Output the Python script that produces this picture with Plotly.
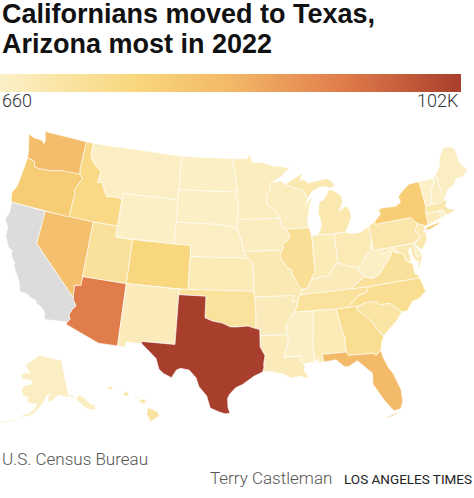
import math

import plotly.graph_objects as go
from plotly.colors import sample_colorscale

# People who moved out of California in 2022 (estimates)
states = ["AL", "AK", "AZ", "AR", "CA", "CO", "CT", "DE", "DC", "FL", "GA", "HI", "ID", "IL", "IN", "IA", "KS",
          "KY", "LA", "ME", "MD", "MA", "MI", "MN", "MS", "MO", "MT", "NE", "NV", "NH", "NJ", "NM", "NY", "NC",
          "ND", "OH", "OK", "OR", "PA", "RI", "SC", "SD", "TN", "TX", "UT", "VT", "VA", "WA", "WV", "WI", "WY"]
moved = [7000, 2500, 76000, 6000, None, 30000, 6000, 3000, 3000, 50000, 22000, 16000, 27000, 20000, 7000, 4000, 7000,
         6000, 6000, 2500, 9000, 11000, 10000, 4500, 1800, 9000, 3000, 2500, 46000, 2500, 10000, 6000, 37000, 22000,
         1500, 8000, 17000, 38000, 12000, 1500, 14000, 1800, 17000, 102000, 18000, 660, 18000, 48000, 1500, 4500, 1800]
z_min = 660
z_max = 102000
no_data_color = "#dcdcdc"

colorscale = [[0, "#fbf0c8"], [0.15, "#fae3a0"], [0.3, "#f8d67c"], [0.5, "#f3b868"], [0.75, "#e07b4a"], [1, "#a83e2c"]]

# Rough state outlines, lon/lat, one list per ring (no map files are available offline)
outlines = {
    "WA": [[(-124.73, 48.38), (-123.98, 48.16), (-123.15, 48.15), (-122.7, 48.12), (-122.5, 47.9), (-122.35, 48.05), (-122.45, 48.4), (-122.75, 49.0), (-117.03, 49.0), (-117.04, 46.42), (-116.92, 46.0), (-118.98, 46.0), (-119.3, 45.93), (-120.5, 45.7), (-121.2, 45.65), (-122.2, 45.58), (-122.75, 45.65), (-122.95, 46.1), (-123.4, 46.2), (-123.95, 46.25), (-124.05, 46.7), (-124.15, 47.0), (-124.4, 47.6)]],
    "OR": [[(-123.95, 46.25), (-123.4, 46.2), (-122.95, 46.1), (-122.75, 45.65), (-122.2, 45.58), (-121.2, 45.65), (-120.5, 45.7), (-119.3, 45.93), (-118.98, 46.0), (-116.92, 46.0), (-116.46, 45.6), (-116.67, 45.32), (-116.85, 45.02), (-117.2, 44.45), (-117.03, 44.25), (-116.93, 44.1), (-117.03, 43.83), (-117.03, 42.0), (-124.21, 42.0), (-124.41, 42.3), (-124.55, 42.84), (-124.2, 43.4), (-124.1, 44.0), (-124.05, 44.7), (-123.95, 45.5)]],
    "ID": [[(-117.03, 49.0), (-116.05, 49.0), (-116.05, 48.0), (-115.72, 47.45), (-114.95, 46.93), (-114.33, 46.65), (-114.45, 45.55), (-113.95, 45.7), (-113.45, 45.0), (-113.0, 44.45), (-112.3, 44.55), (-111.5, 44.55), (-111.05, 44.48), (-111.05, 42.0), (-114.04, 42.0), (-117.03, 42.0), (-117.03, 43.83), (-116.93, 44.1), (-117.03, 44.25), (-117.2, 44.45), (-116.85, 45.02), (-116.67, 45.32), (-116.46, 45.6), (-116.92, 46.0), (-117.04, 46.42)]],
    "MT": [[(-116.05, 49.0), (-104.05, 49.0), (-104.05, 45.0), (-111.05, 45.0), (-111.05, 44.48), (-111.5, 44.55), (-112.3, 44.55), (-113.0, 44.45), (-113.45, 45.0), (-113.95, 45.7), (-114.45, 45.55), (-114.33, 46.65), (-114.95, 46.93), (-115.72, 47.45), (-116.05, 48.0)]],
    "WY": [[(-111.05, 45.0), (-104.05, 45.0), (-104.05, 41.0), (-111.05, 41.0)]],
    "UT": [[(-114.04, 42.0), (-111.05, 42.0), (-111.05, 41.0), (-109.05, 41.0), (-109.05, 37.0), (-114.05, 37.0)]],
    "CO": [[(-109.05, 41.0), (-102.05, 41.0), (-102.05, 37.0), (-109.05, 37.0)]],
    "NV": [[(-120.0, 42.0), (-114.04, 42.0), (-114.05, 36.2), (-114.75, 36.1), (-114.63, 35.0), (-120.0, 39.0)]],
    "CA": [[(-124.21, 42.0), (-120.0, 42.0), (-120.0, 39.0), (-114.63, 35.0), (-114.57, 34.8), (-114.15, 34.3), (-114.5, 33.9), (-114.7, 33.4), (-114.5, 33.0), (-114.72, 32.72), (-117.12, 32.53), (-117.25, 32.85), (-117.4, 33.25), (-118.0, 33.65), (-118.4, 33.75), (-118.5, 34.03), (-119.2, 34.15), (-119.6, 34.4), (-120.5, 34.45), (-120.65, 34.9), (-120.9, 35.4), (-121.9, 36.6), (-121.8, 36.85), (-122.05, 36.95), (-122.5, 37.5), (-122.5, 37.8), (-123.0, 38.0), (-123.7, 38.9), (-123.8, 39.8), (-124.35, 40.3), (-124.1, 41.0)]],
    "AZ": [[(-114.05, 37.0), (-109.05, 37.0), (-109.05, 31.33), (-111.07, 31.33), (-114.81, 32.5), (-114.72, 32.72), (-114.5, 33.0), (-114.7, 33.4), (-114.5, 33.9), (-114.15, 34.3), (-114.57, 34.8), (-114.63, 35.0), (-114.75, 36.1), (-114.05, 36.2)]],
    "NM": [[(-109.05, 37.0), (-103.0, 37.0), (-103.04, 36.5), (-103.05, 32.0), (-106.62, 32.0), (-106.53, 31.78), (-108.21, 31.78), (-108.21, 31.33), (-109.05, 31.33)]],
    "TX": [[(-103.04, 36.5), (-100.0, 36.5), (-100.0, 34.56), (-99.2, 34.3), (-98.1, 34.13), (-97.2, 33.8), (-96.5, 33.8), (-95.3, 33.88), (-94.48, 33.64), (-94.04, 33.55), (-94.04, 33.0), (-94.04, 31.99), (-93.55, 31.18), (-93.7, 30.5), (-93.7, 30.1), (-93.84, 29.7), (-94.7, 29.35), (-95.1, 29.1), (-95.9, 28.6), (-96.6, 28.3), (-97.2, 27.7), (-97.4, 27.3), (-97.35, 26.5), (-97.15, 25.96), (-97.6, 25.9), (-98.2, 26.06), (-99.1, 26.4), (-99.5, 27.5), (-100.3, 28.3), (-100.65, 29.1), (-101.4, 29.77), (-102.3, 29.88), (-102.7, 29.7), (-103.15, 28.98), (-104.0, 29.3), (-104.5, 29.65), (-104.9, 30.6), (-106.0, 31.4), (-106.53, 31.78), (-106.62, 32.0), (-103.05, 32.0)]],
    "OK": [[(-103.0, 37.0), (-94.62, 37.0), (-94.43, 35.4), (-94.48, 33.64), (-95.3, 33.88), (-96.5, 33.8), (-97.2, 33.8), (-98.1, 34.13), (-99.2, 34.3), (-100.0, 34.56), (-100.0, 36.5), (-103.04, 36.5)]],
    "KS": [[(-102.05, 40.0), (-95.31, 40.0), (-94.9, 39.75), (-94.61, 39.11), (-94.62, 37.0), (-102.05, 37.0)]],
    "NE": [[(-104.05, 43.0), (-98.5, 43.0), (-97.9, 42.8), (-97.2, 42.85), (-96.45, 42.49), (-96.1, 41.7), (-95.9, 41.2), (-95.85, 40.7), (-95.31, 40.0), (-102.05, 40.0), (-102.05, 41.0), (-104.05, 41.0)]],
    "SD": [[(-104.05, 45.94), (-96.56, 45.94), (-96.85, 45.6), (-96.45, 45.3), (-96.45, 43.5), (-96.6, 43.5), (-96.45, 42.49), (-97.2, 42.85), (-97.9, 42.8), (-98.5, 43.0), (-104.05, 43.0)]],
    "ND": [[(-104.05, 49.0), (-97.23, 49.0), (-96.85, 47.6), (-96.56, 45.94), (-104.05, 45.94)]],
    "MN": [[(-97.23, 49.0), (-95.15, 49.0), (-95.15, 49.38), (-94.8, 49.3), (-94.6, 48.7), (-93.0, 48.6), (-92.0, 48.3), (-90.8, 48.2), (-89.6, 48.0), (-90.8, 47.3), (-92.1, 46.75), (-92.3, 46.65), (-92.3, 46.1), (-92.85, 45.6), (-92.75, 44.75), (-91.9, 44.3), (-91.25, 43.5), (-96.45, 43.5), (-96.45, 45.3), (-96.85, 45.6), (-96.56, 45.94), (-96.85, 47.6)]],
    "IA": [[(-96.6, 43.5), (-91.25, 43.5), (-91.1, 42.7), (-90.65, 42.5), (-90.15, 41.9), (-90.35, 41.55), (-91.05, 41.2), (-91.1, 40.7), (-91.42, 40.38), (-91.7, 40.6), (-95.77, 40.58), (-95.85, 40.7), (-95.9, 41.2), (-96.1, 41.7), (-96.45, 42.49)]],
    "MO": [[(-95.77, 40.58), (-91.7, 40.6), (-91.42, 40.38), (-91.5, 40.0), (-90.7, 39.0), (-90.2, 38.8), (-90.2, 38.4), (-89.5, 37.3), (-89.13, 36.98), (-89.5, 36.5), (-89.7, 36.0), (-90.37, 36.0), (-90.15, 36.5), (-94.62, 36.5), (-94.62, 37.0), (-94.61, 39.11), (-94.9, 39.75), (-95.31, 40.0)]],
    "AR": [[(-94.62, 36.5), (-90.15, 36.5), (-90.37, 36.0), (-89.7, 36.0), (-90.1, 35.0), (-90.6, 34.6), (-91.1, 33.9), (-91.17, 33.0), (-94.04, 33.0), (-94.04, 33.55), (-94.48, 33.64), (-94.43, 35.4)]],
    "LA": [[(-94.04, 33.0), (-91.17, 33.0), (-91.0, 32.4), (-91.6, 31.0), (-89.75, 31.0), (-89.85, 30.65), (-89.6, 30.2), (-89.4, 30.05), (-89.6, 29.7), (-89.15, 29.1), (-89.4, 28.95), (-90.0, 29.2), (-90.9, 29.05), (-91.8, 29.5), (-92.2, 29.55), (-93.2, 29.77), (-93.84, 29.7), (-93.7, 30.1), (-93.7, 30.5), (-93.55, 31.18), (-94.04, 31.99)]],
    "MS": [[(-91.17, 33.0), (-91.1, 33.9), (-90.6, 34.6), (-90.1, 35.0), (-88.2, 35.0), (-88.1, 34.9), (-88.47, 31.9), (-88.4, 30.37), (-89.3, 30.3), (-89.6, 30.2), (-89.85, 30.65), (-89.75, 31.0), (-91.6, 31.0), (-91.0, 32.4)]],
    "AL": [[(-88.2, 35.0), (-85.6, 34.98), (-85.18, 32.87), (-85.0, 32.3), (-85.05, 31.55), (-85.0, 31.0), (-87.6, 31.0), (-87.45, 30.4), (-87.5, 30.3), (-88.0, 30.23), (-88.0, 30.65), (-88.4, 30.37), (-88.47, 31.9), (-88.1, 34.9)]],
    "GA": [[(-85.6, 34.98), (-83.1, 35.0), (-83.35, 34.7), (-82.6, 34.0), (-81.9, 33.4), (-81.4, 32.6), (-81.1, 32.1), (-80.85, 32.03), (-81.2, 31.5), (-81.45, 30.72), (-82.05, 30.36), (-82.2, 30.57), (-84.86, 30.7), (-85.0, 31.0), (-85.05, 31.55), (-85.0, 32.3), (-85.18, 32.87)]],
    "FL": [[(-87.6, 31.0), (-85.0, 31.0), (-84.86, 30.7), (-82.2, 30.57), (-82.05, 30.36), (-81.45, 30.72), (-81.3, 30.0), (-80.95, 29.1), (-80.55, 28.45), (-80.05, 26.9), (-80.1, 25.8), (-80.4, 25.2), (-81.1, 25.12), (-81.8, 26.1), (-82.2, 26.8), (-82.75, 27.8), (-82.65, 28.8), (-83.3, 29.4), (-84.0, 30.1), (-85.0, 29.65), (-85.4, 29.7), (-86.2, 30.4), (-87.5, 30.3), (-87.45, 30.4)],
           [(-81.85, 24.55), (-81.0, 24.72), (-80.7, 24.9), (-81.05, 24.8), (-81.8, 24.65)]],
    "SC": [[(-83.1, 35.0), (-82.3, 35.2), (-81.05, 35.15), (-80.8, 34.82), (-79.67, 34.8), (-78.55, 33.86), (-79.2, 33.2), (-79.9, 32.7), (-80.85, 32.03), (-81.1, 32.1), (-81.4, 32.6), (-81.9, 33.4), (-82.6, 34.0), (-83.35, 34.7)]],
    "NC": [[(-84.32, 34.99), (-83.1, 35.0), (-82.3, 35.2), (-81.05, 35.15), (-80.8, 34.82), (-79.67, 34.8), (-78.55, 33.86), (-77.95, 33.85), (-77.2, 34.6), (-76.5, 34.7), (-75.55, 35.25), (-75.85, 36.55), (-81.68, 36.59), (-82.0, 36.1), (-82.9, 35.95), (-83.5, 35.57)]],
    "TN": [[(-90.1, 35.0), (-88.2, 35.0), (-85.6, 34.98), (-84.32, 34.99), (-83.5, 35.57), (-82.9, 35.95), (-82.0, 36.1), (-81.68, 36.59), (-83.68, 36.6), (-88.07, 36.5), (-89.5, 36.5), (-89.7, 36.0)]],
    "KY": [[(-89.5, 36.5), (-88.07, 36.5), (-83.68, 36.6), (-81.97, 37.54), (-82.6, 38.17), (-82.6, 38.42), (-83.7, 38.65), (-84.8, 39.1), (-85.4, 38.7), (-85.9, 38.0), (-86.8, 37.95), (-88.05, 37.8), (-88.5, 37.1), (-89.13, 36.98)]],
    "VA": [[(-83.68, 36.6), (-81.68, 36.59), (-75.85, 36.55), (-76.0, 36.9), (-76.3, 37.0), (-76.3, 37.9), (-77.0, 38.3), (-77.05, 38.85), (-77.5, 39.1), (-77.83, 39.13), (-78.35, 39.4), (-78.87, 38.77), (-79.3, 38.42), (-80.3, 37.5), (-81.2, 37.25), (-81.97, 37.54)],
           [(-75.95, 37.12), (-75.6, 37.95), (-75.25, 38.03), (-75.9, 37.1)]],
    "WV": [[(-81.97, 37.54), (-81.2, 37.25), (-80.3, 37.5), (-79.3, 38.42), (-78.87, 38.77), (-78.35, 39.4), (-77.83, 39.13), (-77.72, 39.32), (-78.2, 39.68), (-79.48, 39.2), (-79.48, 39.72), (-80.52, 39.72), (-80.52, 40.64), (-80.85, 39.7), (-81.7, 39.2), (-82.2, 38.6), (-82.6, 38.42), (-82.6, 38.17)]],
    "MD": [[(-79.48, 39.72), (-75.79, 39.72), (-75.7, 38.46), (-75.05, 38.45), (-75.25, 38.03), (-75.6, 37.95), (-75.95, 38.2), (-76.2, 38.8), (-76.1, 39.4), (-76.5, 39.2), (-76.45, 38.9), (-76.35, 38.1), (-77.0, 38.3), (-77.05, 38.85), (-77.5, 39.1), (-77.83, 39.13), (-77.72, 39.32), (-78.2, 39.68), (-79.48, 39.2)]],
    "DE": [[(-75.79, 39.72), (-75.41, 39.8), (-75.55, 39.45), (-75.1, 38.8), (-75.05, 38.45), (-75.7, 38.46)]],
    "DC": [[(-77.12, 38.93), (-77.04, 39.0), (-76.91, 38.89), (-77.04, 38.79)]],
    "PA": [[(-80.52, 41.98), (-79.76, 42.27), (-79.76, 42.0), (-75.35, 42.0), (-75.05, 41.6), (-74.7, 41.36), (-75.1, 40.95), (-75.2, 40.65), (-74.72, 40.15), (-75.41, 39.8), (-75.79, 39.72), (-80.52, 39.72)]],
    "NJ": [[(-74.7, 41.36), (-73.9, 41.0), (-74.25, 40.5), (-74.0, 40.45), (-74.1, 39.75), (-74.4, 39.45), (-74.9, 38.95), (-75.3, 39.3), (-75.55, 39.6), (-74.72, 40.15), (-75.2, 40.65), (-75.1, 40.95)]],
    "NY": [[(-79.76, 42.27), (-79.76, 42.0), (-75.35, 42.0), (-75.05, 41.6), (-74.7, 41.36), (-73.9, 41.0), (-73.65, 41.0), (-73.5, 41.2), (-73.5, 42.05), (-73.27, 42.75), (-73.35, 45.0), (-74.7, 45.0), (-75.8, 44.45), (-76.3, 44.1), (-76.2, 43.55), (-76.9, 43.28), (-78.5, 43.37), (-79.05, 43.27), (-78.9, 42.85)],
           [(-74.03, 40.6), (-73.75, 40.85), (-72.6, 40.98), (-71.9, 41.07), (-72.5, 40.82), (-73.5, 40.6)]],
    "CT": [[(-73.5, 42.05), (-71.8, 42.02), (-71.8, 41.35), (-73.65, 41.0), (-73.5, 41.2)]],
    "RI": [[(-71.8, 42.02), (-71.38, 42.02), (-71.2, 41.5), (-71.85, 41.32)]],
    "MA": [[(-73.5, 42.05), (-73.27, 42.75), (-71.3, 42.7), (-70.9, 42.88), (-70.6, 42.65), (-71.0, 42.3), (-70.6, 41.95), (-70.05, 41.8), (-70.2, 42.07), (-69.95, 41.7), (-70.65, 41.55), (-71.2, 41.5), (-71.38, 42.02)]],
    "VT": [[(-73.35, 45.0), (-71.5, 45.01), (-71.6, 44.5), (-72.05, 44.1), (-72.45, 43.2), (-72.46, 42.73), (-73.27, 42.75)]],
    "NH": [[(-71.5, 45.01), (-71.08, 45.3), (-70.98, 43.4), (-70.7, 43.07), (-70.9, 42.88), (-71.3, 42.7), (-72.46, 42.73), (-72.45, 43.2), (-72.05, 44.1), (-71.6, 44.5)]],
    "ME": [[(-71.08, 45.3), (-70.4, 45.8), (-70.25, 46.2), (-70.0, 46.7), (-69.23, 47.46), (-68.3, 47.35), (-67.79, 47.07), (-67.78, 45.9), (-67.45, 45.3), (-67.0, 44.85), (-68.0, 44.4), (-68.8, 44.4), (-69.1, 44.0), (-70.2, 43.6), (-70.7, 43.07), (-70.98, 43.4)]],
    "OH": [[(-84.8, 39.1), (-83.7, 38.65), (-82.6, 38.42), (-82.2, 38.6), (-81.7, 39.2), (-80.85, 39.7), (-80.52, 40.64), (-80.52, 41.98), (-81.7, 41.5), (-82.7, 41.5), (-83.45, 41.73), (-84.8, 41.7)]],
    "IN": [[(-87.53, 41.7), (-87.2, 41.75), (-86.82, 41.76), (-84.8, 41.7), (-84.8, 39.1), (-85.4, 38.7), (-85.9, 38.0), (-86.8, 37.95), (-88.05, 37.8), (-87.53, 38.5), (-87.53, 39.35)]],
    "IL": [[(-87.53, 41.7), (-87.8, 42.3), (-87.8, 42.49), (-90.65, 42.5), (-90.15, 41.9), (-90.35, 41.55), (-91.05, 41.2), (-91.1, 40.7), (-91.42, 40.38), (-91.5, 40.0), (-90.7, 39.0), (-90.2, 38.8), (-90.2, 38.4), (-89.5, 37.3), (-89.13, 36.98), (-88.5, 37.1), (-88.05, 37.8), (-87.53, 38.5), (-87.53, 39.35)]],
    "WI": [[(-90.65, 42.5), (-87.8, 42.49), (-87.9, 43.0), (-87.7, 43.8), (-87.5, 44.3), (-87.0, 45.25), (-88.0, 44.55), (-87.6, 45.1), (-87.8, 45.35), (-88.1, 45.9), (-89.1, 46.13), (-90.4, 46.55), (-90.8, 46.9), (-92.1, 46.75), (-92.3, 46.65), (-92.3, 46.1), (-92.85, 45.6), (-92.75, 44.75), (-91.9, 44.3), (-91.25, 43.5), (-91.1, 42.7)]],
    "MI": [[(-86.82, 41.76), (-84.8, 41.7), (-83.45, 41.73), (-83.15, 42.05), (-82.5, 43.0), (-82.55, 43.6), (-82.95, 44.05), (-83.4, 43.9), (-83.9, 43.7), (-83.35, 44.35), (-83.3, 45.0), (-84.1, 45.5), (-84.75, 45.78), (-85.1, 45.4), (-85.5, 44.95), (-86.2, 44.7), (-86.5, 43.8), (-86.25, 43.0), (-86.3, 42.4)],
           [(-90.4, 46.55), (-89.1, 46.13), (-88.1, 45.9), (-87.8, 45.35), (-87.6, 45.1), (-87.0, 45.7), (-86.3, 45.95), (-85.5, 46.08), (-84.75, 45.87), (-84.0, 46.0), (-84.4, 46.5), (-85.0, 46.75), (-86.1, 46.67), (-87.4, 46.5), (-87.9, 46.9), (-88.45, 46.8), (-87.9, 47.47), (-88.9, 47.1), (-89.8, 46.8)]],
    "AK": [[(-141.0, 69.65), (-141.0, 60.3), (-139.1, 60.0), (-137.5, 58.9), (-135.5, 59.7), (-133.4, 58.4), (-131.8, 56.6), (-130.0, 56.0), (-130.3, 54.9), (-132.5, 55.0), (-134.7, 56.2), (-136.5, 58.0), (-138.0, 59.0), (-140.0, 59.7), (-143.0, 60.0), (-146.0, 60.7), (-148.0, 60.0), (-150.0, 59.3), (-151.8, 59.2), (-151.4, 60.7), (-150.0, 61.2), (-152.0, 60.9), (-153.5, 59.5), (-154.0, 58.9), (-156.5, 57.3), (-158.5, 56.0), (-161.0, 55.2), (-163.5, 54.7), (-164.8, 54.6), (-163.0, 55.5), (-160.5, 56.0), (-158.0, 57.5), (-157.2, 58.7), (-158.8, 58.5), (-162.0, 58.7), (-162.0, 60.0), (-164.5, 60.3), (-165.4, 61.1), (-166.0, 62.0), (-164.8, 63.0), (-161.0, 63.5), (-161.0, 64.5), (-163.0, 64.5), (-166.5, 64.5), (-168.0, 65.6), (-164.0, 66.5), (-162.0, 66.1), (-163.5, 67.0), (-166.5, 68.3), (-163.0, 69.5), (-156.7, 71.35), (-152.0, 70.8), (-146.0, 70.1)],
           [(-165.0, 54.1), (-168.0, 53.4), (-172.0, 52.5), (-176.0, 52.0), (-172.0, 52.2), (-168.0, 53.1), (-165.5, 53.8)]],
    "HI": [[(-155.9, 20.25), (-155.1, 19.9), (-154.8, 19.5), (-155.7, 18.95), (-156.05, 19.7)],
           [(-156.7, 20.95), (-156.25, 20.95), (-156.0, 20.75), (-156.4, 20.58), (-156.7, 20.8)],
           [(-157.3, 21.2), (-156.75, 21.17), (-156.9, 21.05)],
           [(-158.28, 21.55), (-157.95, 21.7), (-157.65, 21.3), (-158.1, 21.3)],
           [(-159.8, 22.05), (-159.35, 22.2), (-159.3, 21.95), (-159.6, 21.9)]],
}


def conic(lon, lat, rotate, center_lon, lat0, p1, p2):
    """Albers equal area on the unit sphere, centred on (center_lon, lat0)"""
    s1, s2 = math.radians(p1), math.radians(p2)
    n = (math.sin(s1) + math.sin(s2)) / 2
    c = math.cos(s1) ** 2 + 2 * n * math.sin(s1)
    r0 = math.sqrt(c - 2 * n * math.sin(math.radians(lat0))) / n
    r = math.sqrt(c - 2 * n * math.sin(math.radians(lat))) / n
    a = n * math.radians(lon + rotate)
    x0 = r0 * math.sin(n * math.radians(center_lon))
    return r * math.sin(a) - x0, r0 - r * math.cos(a)


def albers_usa(lon, lat, state):
    """Same composite as d3.geoAlbersUsa, y pointing down"""
    if state == "AK":
        x, y = conic(lon, lat, 154, -2, 58.5, 55, 65)
        return x * 0.35 - 0.307, -y * 0.35 + 0.201
    if state == "HI":
        x, y = conic(lon, lat, 157, -3, 19.9, 8, 18)
        return x - 0.205, -y + 0.212
    x, y = conic(lon, lat, 96, -0.6, 38.7, 29.5, 45.5)
    return x, -y


projected = {s: [[albers_usa(lon, lat, s) for lon, lat in ring] for ring in outlines[s]] for s in states}

# Fit the projected map to the space under the colour bar
lower48 = [pt for s in states if s not in ("AK", "HI") for ring in projected[s] for pt in ring]
xs = [p[0] for p in lower48]
ys = [p[1] for p in lower48]
map_left, map_right, map_bottom = 5, 468, 418
k = (map_right - map_left) / (max(xs) - min(xs))
k_y = k * 0.983  # reference map is a touch flatter
off_x = map_left - k * min(xs)
off_y = map_bottom - k_y * max(ys)
inset_shift = 5  # Alaska and Hawaii sit a little lower

fig = go.Figure()
for state, value in zip(states, moved):
    dy = inset_shift if state in ("AK", "HI") else 0
    px_x, px_y = [], []
    for ring in projected[state]:
        px_x += [k * p[0] + off_x for p in ring] + [k * ring[0][0] + off_x, None]
        px_y += [k_y * p[1] + off_y + dy for p in ring] + [k_y * ring[0][1] + off_y + dy, None]
    if value is None:
        color = no_data_color
    else:
        color = sample_colorscale(colorscale, (value - z_min) / (z_max - z_min))[0]
    fig.add_trace(go.Scatter(
        x=px_x, y=px_y, mode="lines", fill="toself", fillcolor=color,
        line=dict(color="#ffffff", width=0.6), name=state, hoverinfo="name",
    ))

# Colour bar only
fig.add_trace(go.Scatter(
    x=[None], y=[None], mode="markers", hoverinfo="skip",
    marker=dict(color=[z_min, z_max], cmin=z_min, cmax=z_max, colorscale=colorscale, showscale=True,
                colorbar=dict(orientation="h", x=0, xanchor="left", y=1 - 92 / 498, yanchor="bottom",
                              len=461 / 474, thickness=18, xpad=0, ypad=0, outlinewidth=0,
                              showticklabels=False, ticks="")),
))


def note(text, x, y, size, color="#333333", anchor="left", family="Roboto", weight=300):
    fig.add_annotation(text=text, x=x / 474, y=1 - y / 498, xref="paper", yref="paper", xanchor=anchor,
                       yanchor="middle", showarrow=False, font=dict(family=family, size=size, color=color, weight=weight))


note("Californians moved to Texas,", 0, 14, 27, "#111111", family="Liberation Sans", weight=700)
note("Arizona most in 2022", 0, 44, 27, "#111111", family="Liberation Sans", weight=700)
note("660", 0, 101, 18)
note("102K", 461, 101, 18, anchor="right")
note("U.S. Census Bureau", 0, 459, 17, "#555555")
note("Terry Castleman", 208, 478, 17, "#555555")
note("LOS ANGELES TIMES", 474, 479, 13.5, "#222222", anchor="right", weight=400)

fig.update_layout(
    width=474, height=498, margin=dict(l=0, r=0, t=0, b=0), paper_bgcolor="white", plot_bgcolor="white",
    showlegend=False,
    xaxis=dict(range=[0, 474], visible=False, fixedrange=True),
    yaxis=dict(range=[498, 0], visible=False, fixedrange=True),
)
fig.write_html("out.html", config={"displayModeBar": False}, post_script="document.body.style.margin='0';")
